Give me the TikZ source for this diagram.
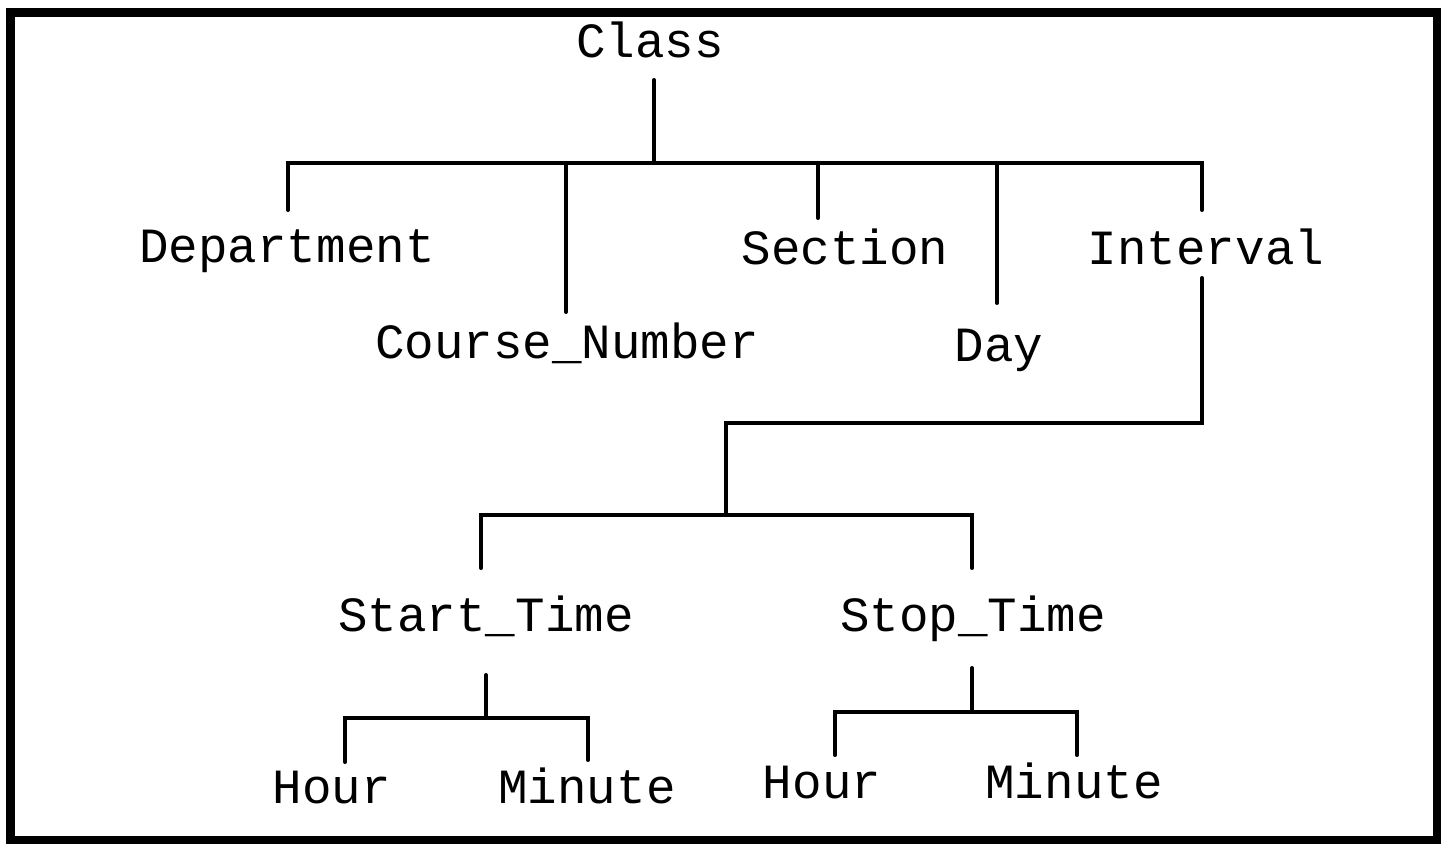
\documentclass[tikz,border=0pt]{standalone}
\usepackage{fontspec}
\setmonofont{Liberation Mono}
\usepackage{tikz}

\begin{document}
\begin{tikzpicture}[x=0.02cm,y=-0.02cm,
  lbl/.style={inner sep=0pt,anchor=base,font=\ttfamily\fontsize{28}{32}\selectfont},
  edge/.style={line width=2.3pt,line cap=round,line join=miter}]
\useasboundingbox (0,0) rectangle (1446,844);
\draw[line width=5pt] (10.5,12.5) rectangle (1437,840);

\node[lbl] (cls) at (650,58) {Class};
\node[lbl] (dept) at (287,263) {Department};
\node[lbl] (cnum) at (567,358) {Course\_Number};
\node[lbl] (sect) at (845,265) {Section};
\node[lbl] (day) at (999,361) {Day};
\node[lbl] (intv) at (1206,265) {Interval};
\node[lbl] (start) at (486,631) {Start\_Time};
\node[lbl] (stop) at (973,631) {Stop\_Time};
\node[lbl] (hr1) at (332,803) {Hour};
\node[lbl] (min1) at (587,803) {Minute};
\node[lbl] (hr2) at (822,798) {Hour};
\node[lbl] (min2) at (1074,798) {Minute};

\coordinate (c0) at (654,80);
\coordinate (c1) at (654,163);
\coordinate (d0) at (288,210);
\coordinate (n0) at (566,312);
\coordinate (s0) at (818,218);
\coordinate (y0) at (997,303);
\coordinate (i0) at (1202,210);
\coordinate (i1) at (1202,278);
\coordinate (t0) at (726,423);
\coordinate (t1) at (726,515);
\coordinate (a0) at (481,568);
\coordinate (b0) at (972,568);
\coordinate (a1) at (486,675);
\coordinate (a2) at (486,718);
\coordinate (h1) at (345,762);
\coordinate (m1) at (588,760);
\coordinate (b1) at (972,668);
\coordinate (b2) at (972,712);
\coordinate (h2) at (835,755);
\coordinate (m2) at (1077,755);

% top level
\draw[edge] (c0)--(c1);
\draw[edge] (d0)--(d0 |- c1)--(i0 |- c1)--(i0);
\draw[edge] (n0)--(n0 |- c1);
\draw[edge] (s0)--(s0 |- c1);
\draw[edge] (y0)--(y0 |- c1);

% interval
\draw[edge] (i1)--(i1 |- t0)--(t0)--(t1);
\draw[edge] (a0)--(a0 |- t1)--(b0 |- t1)--(b0);

% start and stop
\draw[edge] (a1)--(a2);
\draw[edge] (h1)--(h1 |- a2)--(m1 |- a2)--(m1);
\draw[edge] (b1)--(b2);
\draw[edge] (h2)--(h2 |- b2)--(m2 |- b2)--(m2);
\end{tikzpicture}
\end{document}
